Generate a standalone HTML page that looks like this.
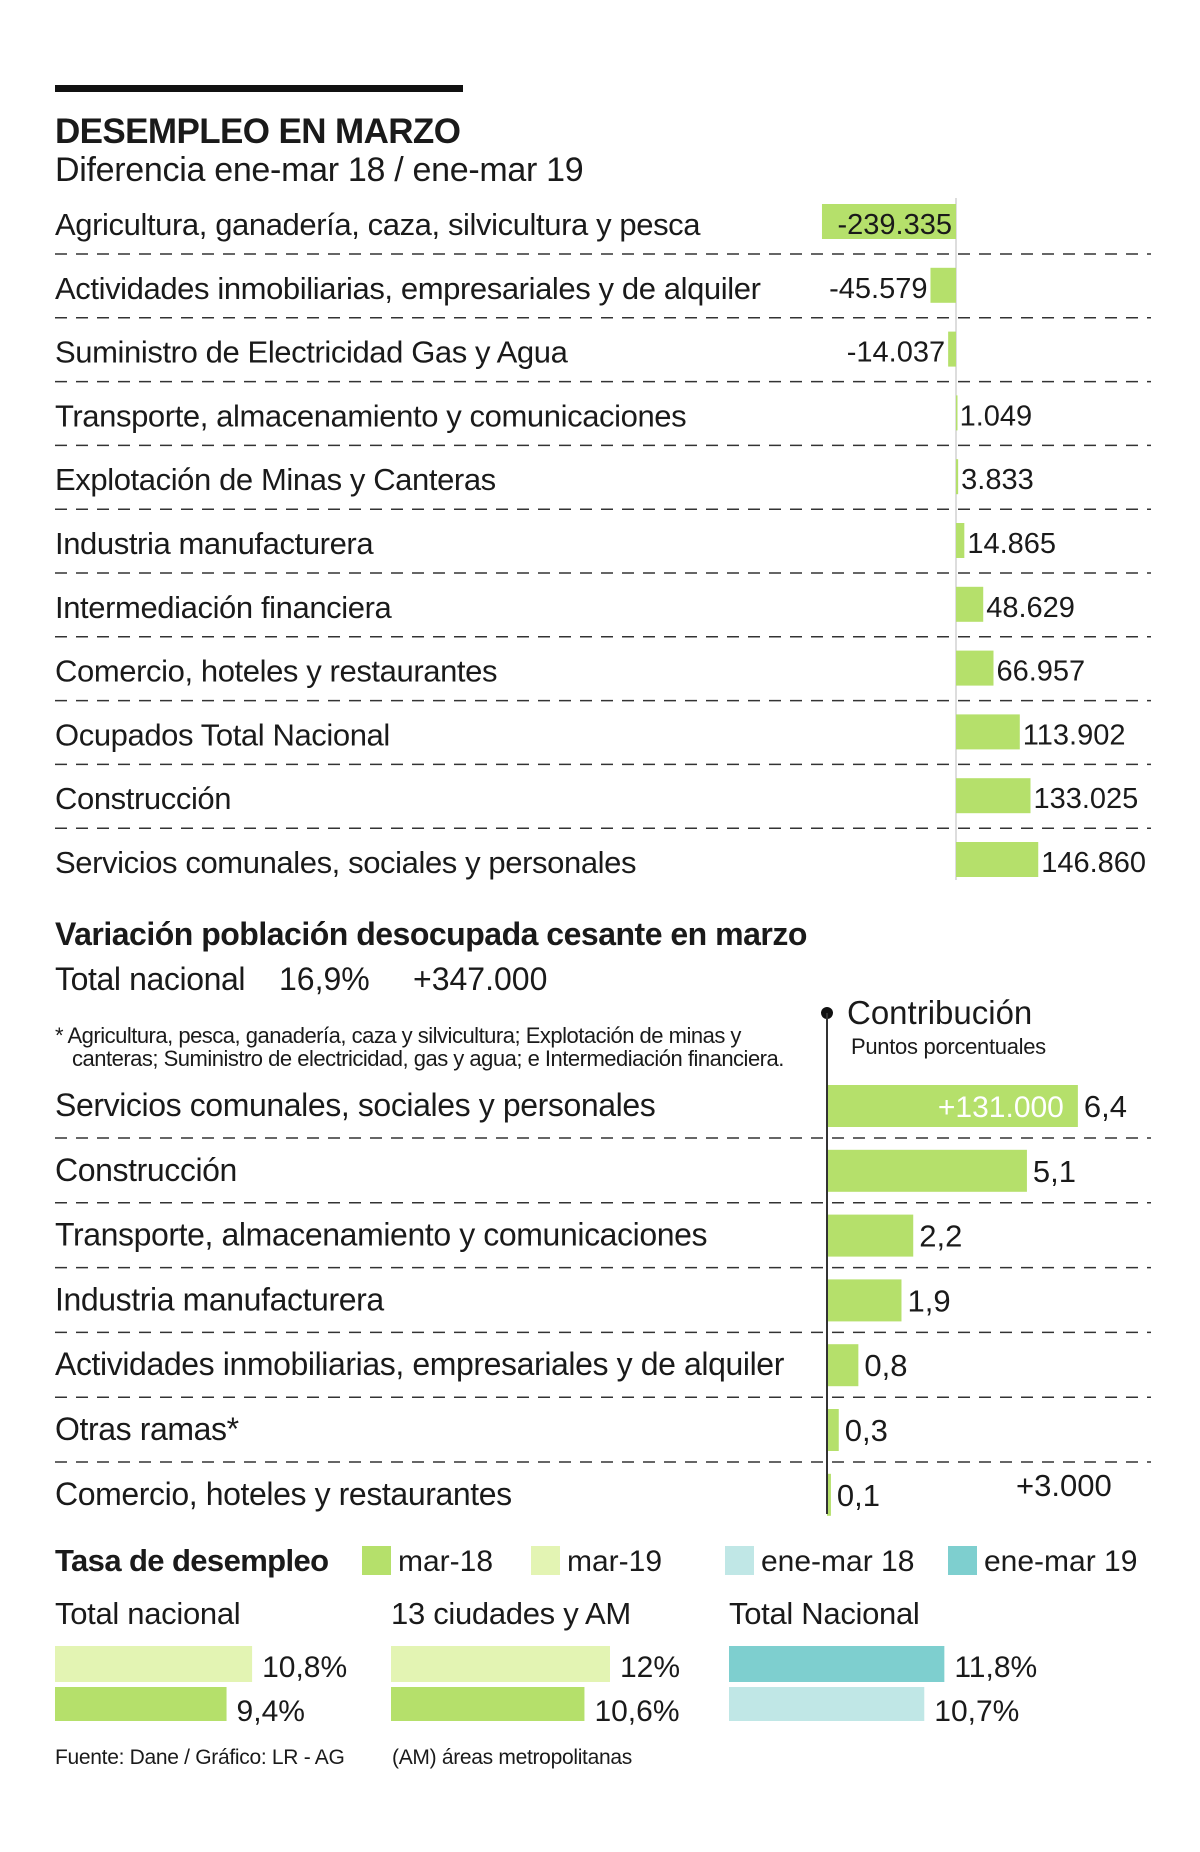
<!DOCTYPE html>
<html><head><meta charset="utf-8">
<style>
html,body{margin:0;padding:0;background:#fff;}
svg{display:block;font-family:"Liberation Sans",sans-serif;}
text{fill:#1a1a1a;}
</style></head>
<body>
<svg id="chart" width="1200" height="1852" viewBox="0 0 1200 1852" xmlns="http://www.w3.org/2000/svg">
<rect x="55" y="85" width="408" height="7" fill="#111"/>
<text x="55" y="143" font-size="35" font-weight="bold" letter-spacing="-0.6">DESEMPLEO EN MARZO</text>
<text x="55" y="181" font-size="34" letter-spacing="-0.3">Diferencia ene-mar 18 / ene-mar 19</text>
<g id="top"></g>
<text x="55" y="945" font-size="32" font-weight="bold" letter-spacing="-0.5">Variación población desocupada cesante en marzo</text>
<text x="55" y="990" font-size="32" letter-spacing="-0.4">Total nacional</text>
<text x="279" y="990" font-size="32">16,9%</text>
<text x="413" y="990" font-size="32">+347.000</text>
<text x="55" y="1043" font-size="22" letter-spacing="-0.5">* Agricultura, pesca, ganadería, caza y silvicultura; Explotación de minas y</text>
<text x="72" y="1066" font-size="22" letter-spacing="-0.5">canteras; Suministro de electricidad, gas y agua; e Intermediación financiera.</text>
<circle cx="827" cy="1013" r="6" fill="#111"/>
<text x="847" y="1024" font-size="33">Contribución</text>
<text x="851" y="1054" font-size="22" letter-spacing="-0.3">Puntos porcentuales</text>
<g id="mid"></g>
<text x="1016" y="1496" font-size="31">+3.000</text>
<g id="bottom"></g>
<text x="55" y="1764" font-size="21" letter-spacing="-0.3">Fuente: Dane / Gráfico: LR - AG</text>
<text x="392" y="1764" font-size="21" letter-spacing="-0.3">(AM) áreas metropolitanas</text>
</svg>
<script>
const topCategories = ["Agricultura, ganadería, caza, silvicultura y pesca","Actividades inmobiliarias, empresariales y de alquiler","Suministro de Electricidad Gas y Agua","Transporte, almacenamiento y comunicaciones","Explotación de Minas y Canteras","Industria manufacturera","Intermediación financiera","Comercio, hoteles y restaurantes","Ocupados Total Nacional","Construcción","Servicios comunales, sociales y personales"];
const topValues = [-239335,-45579,-14037,1049,3833,14865,48629,66957,113902,133025,146860];
const topLabels = ["-239.335","-45.579","-14.037","1.049","3.833","14.865","48.629","66.957","113.902","133.025","146.860"];

const midCategories = ["Servicios comunales, sociales y personales","Construcción","Transporte, almacenamiento y comunicaciones","Industria manufacturera","Actividades inmobiliarias, empresariales y de alquiler","Otras ramas*","Comercio, hoteles y restaurantes"];
const midValues = [6.4,5.1,2.2,1.9,0.8,0.3,0.1];
const midLabels = ["6,4","5,1","2,2","1,9","0,8","0,3","0,1"];

const rateGroups = ["Total nacional","13 ciudades y AM","Total Nacional"];
const rateFirst = [10.8,12,11.8];
const rateSecond = [9.4,10.6,10.7];
const rateFirstLabels = ["10,8%","12%","11,8%"];
const rateSecondLabels = ["9,4%","10,6%","10,7%"];
const legendLabels = ["mar-18","mar-19","ene-mar 18","ene-mar 19"];

const NS="http://www.w3.org/2000/svg";
const G="#b5e06b", LG="#e3f4b3", T="#7ecfcf", LT="#c0e7e6";
function mk(tag,attrs,parent){const e=document.createElementNS(NS,tag);for(const k in attrs)e.setAttribute(k,attrs[k]);parent.appendChild(e);return e;}

const topG=document.getElementById('top');
const x0=956, xScale=v=>x0+v*0.00056;
const rowY=i=>204+i*63.8;
mk('line',{x1:x0,x2:x0,y1:198,y2:880,stroke:"#bbb","stroke-width":1},topG);
topCategories.forEach((c,i)=>{
  const y=rowY(i);
  const t=mk('text',{x:55,y:y+31,"font-size":31,"letter-spacing":-0.4},topG);t.textContent=c;
  
  
  const v=topValues[i];const xa=xScale(Math.min(0,v)), xb=xScale(Math.max(0,v));
  const r=mk('rect',{x:xa,y:y,width:Math.max(xb-xa,1.5),height:35,fill:G},topG);
  
  
  let lx,anchor;
  if(v<0){ if(xb-xa>110){lx=xb-4;anchor='end';} else {lx=xa-3;anchor='end';} }
  else {lx=xb+3;anchor='start';}
  const l=mk('text',{x:lx,y:y+30,"font-size":29,"text-anchor":anchor},topG);l.textContent=topLabels[i];
  
  
  if(i<topCategories.length-1){
    const d=mk('line',{x1:55,x2:1151,y1:y+50,y2:y+50,stroke:"#333","stroke-width":1.5,"stroke-dasharray":"12 9"},topG);
    
    
  }
});

const midG=document.getElementById('mid');
const m0=827, mScale=v=>m0+v*39.2;
const mRowY=i=>1085+i*64.8;
midCategories.forEach((c,i)=>{
  const y=mRowY(i);
  const t=mk('text',{x:55,y:y+31,"font-size":32,"letter-spacing":-0.4},midG);t.textContent=c;
  
  
  const w=mScale(midValues[i])-m0;
  const r=mk('rect',{x:m0,y:y,width:Math.max(w,3),height:42,fill:G},midG);
  
  
  const l=mk('text',{x:m0+Math.max(w,3)+6,y:y+32,"font-size":31},midG);l.textContent=midLabels[i];
  
  
  if(i<midCategories.length-1){
    const d=mk('line',{x1:55,x2:1151,y1:y+53,y2:y+53,stroke:"#333","stroke-width":1.5,"stroke-dasharray":"12 9"},midG);
    
    
  }
});
const tw=mk('text',{x:mScale(midValues[0])-14,y:mRowY(0)+32,"font-size":30,"text-anchor":"end",style:"fill:#fff"},midG);
tw.textContent="+131.000";


const ax=mk('line',{x1:m0,x2:m0,y1:1013,y2:1514,stroke:"#333","stroke-width":2},midG);



const bG=document.getElementById('bottom');
const lt=mk('text',{x:55,y:1571,"font-size":31,"font-weight":"bold","letter-spacing":-0.6},bG);lt.textContent="Tasa de desempleo";


const legCol=[G,LG,LT,T], legX=[362,531,725,948];
legendLabels.forEach((s,i)=>{
  const r=mk('rect',{x:legX[i],y:1546,width:29,height:29,fill:legCol[i]},bG);
  
  
  const t=mk('text',{x:legX[i]+36,y:1571,"font-size":30},bG);t.textContent=s;
  
  
});
const gX=[55,391,729], rS=v=>v*18.25;
const c1=[LG,LG,T], c2=[G,G,LT];
rateGroups.forEach((g,i)=>{
  const h=mk('text',{x:gX[i],y:1624,"font-size":31,"letter-spacing":-0.3},bG);h.textContent=g;
  
  
  const w1=rS(rateFirst[i]), w2=rS(rateSecond[i]);
  const a=mk('rect',{x:gX[i],y:1646,width:w1,height:36,fill:c1[i]},bG);
  
  
  const b=mk('rect',{x:gX[i],y:1687,width:w2,height:34,fill:c2[i]},bG);
  
  
  const t1=mk('text',{x:gX[i]+w1+10,y:1677,"font-size":30},bG);t1.textContent=rateFirstLabels[i];
  
  
  const t2=mk('text',{x:gX[i]+w2+10,y:1721,"font-size":30},bG);t2.textContent=rateSecondLabels[i];
  
  
});
</script>
</body></html>
